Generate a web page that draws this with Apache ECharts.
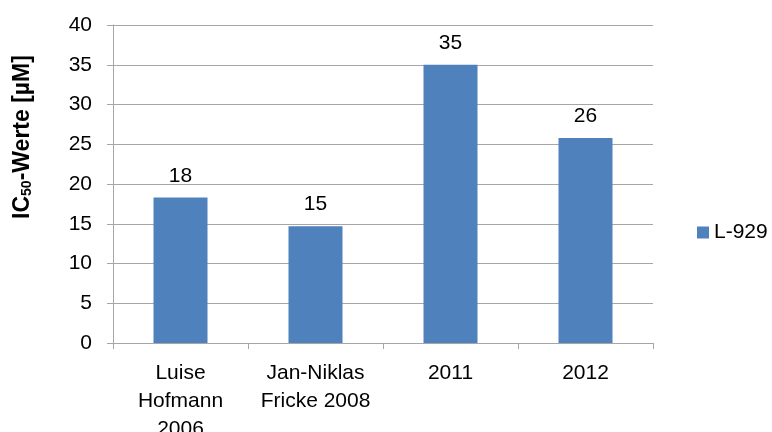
<!DOCTYPE html>
<html>
<head>
<meta charset="utf-8">
<script src="https://cdn.jsdelivr.net/npm/echarts@6/dist/echarts.min.js"></script>
<style>
  html, body { margin: 0; padding: 0; background: #fff; }
  #chart { width: 772px; height: 432px; }
</style>
</head>
<body>
<div id="chart"></div>
<script>
// data
const categories = ['Luise\nHofmann\n2006', 'Jan-Niklas\nFricke 2008', '2011', '2012'];
const seriesName = 'L-929';
const values = [18.3, 14.7, 35.0, 25.8];
const yTicks = { min: 0, max: 40, interval: 5 };

const font = '"Liberation Sans", Arial, sans-serif';
const gridColor = '#a6a6a6';

const chart = echarts.init(document.getElementById('chart'));
chart.setOption({
  animation: false,
  textStyle: { fontFamily: font },
  grid: { left: 113, right: 119, top: 25, bottom: 89, outerBoundsMode: 'none', containLabel: false },
  legend: {
    data: [seriesName],
    left: 692,
    top: 217,
    icon: 'rect',
    itemWidth: 12,
    itemHeight: 12,
    textStyle: { fontFamily: font, fontSize: 21, color: '#000' }
  },
  graphic: [{
    type: 'text',
    x: 23,
    y: 137,
    rotation: Math.PI / 2,
    style: {
      text: '{b|IC}{s|50}{b|-Werte [µM]}',
      align: 'center',
      verticalAlign: 'middle',
      rich: {
        b: { fontFamily: font, fontSize: 23, fontWeight: 'bold', fill: '#000' },
        s: { fontFamily: font, fontSize: 14, fontWeight: 'bold', fill: '#000', verticalAlign: 'bottom', padding: [7, 0, 0, 0] }
      }
    }
  }],
  xAxis: {
    type: 'category',
    data: categories,
    axisLine: { lineStyle: { color: gridColor, width: 1 } },
    axisTick: { show: true, length: 6, lineStyle: { color: gridColor } },
    axisLabel: {
      color: '#000',
      fontFamily: font,
      fontSize: 21,
      lineHeight: 28,
      margin: 16,
      interval: 0
    }
  },
  yAxis: {
    type: 'value',
    min: yTicks.min,
    max: yTicks.max,
    interval: yTicks.interval,
    axisLine: { show: true, lineStyle: { color: gridColor, width: 1 } },
    axisTick: { show: true, length: 6, lineStyle: { color: gridColor } },
    splitLine: { lineStyle: { color: gridColor, width: 1 } },
    axisLabel: {
      color: '#000',
      fontFamily: font,
      fontSize: 21,
      margin: 21
    }
  },
  series: [{
    name: seriesName,
    type: 'bar',
    data: values,
    barWidth: '40%',
    itemStyle: { color: '#4f81bd' },
    label: {
      show: true,
      position: 'top',
      distance: 11,
      color: '#000',
      fontFamily: font,
      fontSize: 21,
      formatter: p => Math.round(p.value)
    }
  }]
});
</script>
</body>
</html>
